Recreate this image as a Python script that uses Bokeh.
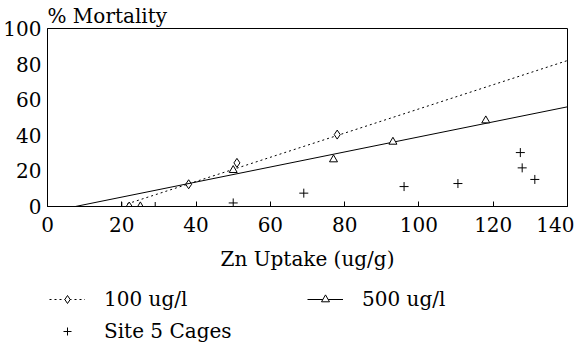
from bokeh.plotting import figure
from bokeh.models import Legend, LegendItem, FixedTicker, Range1d, Title
from bokeh.layouts import column
from bokeh.embed import file_html
from bokeh.resources import INLINE

FONT = "DejaVu Serif"

# 100 ug/l exposure
x100 = [22, 38, 51, 78]
y100 = [0, 12.5, 24.5, 40.4]
fit100_x = [21.5, 140]
fit100_y = [1.5, 82]

# 500 ug/l exposure
x500 = [25, 50, 77, 93, 118]
y500 = [0, 20.4, 26.4, 36.3, 48.3]
fit500_x = [7.5, 140]
fit500_y = [0, 56]

# Site 5 cages
xsite = [20, 29, 50, 69, 96, 110.5, 127.3, 127.8, 131.2]
ysite = [0, 0, 2, 7.5, 11.2, 12.9, 30.3, 21.7, 15.2]

xticks = [0, 20, 40, 60, 80, 100, 120, 140]
yticks = [0, 20, 40, 60, 80, 100]

p = figure(frame_width=520, frame_height=178, output_backend="svg",
           toolbar_location=None, x_range=Range1d(0, 140), y_range=Range1d(0, 100),
           min_border_left=44, min_border_right=7, min_border_top=23,
           min_border_bottom=74)
p.background_fill_color = "white"
p.border_fill_color = "white"
p.outline_line_color = "black"
p.outline_line_width = 1
p.xgrid.visible = False
p.ygrid.visible = False

title = Title(text="% Mortality", align="left", text_font=FONT,
              text_font_size="20px", text_font_style="normal", text_color="black",
              standoff=2)
p.add_layout(title, "above")

for ax in (p.xaxis[0], p.yaxis[0]):
    ax.major_label_text_font = FONT
    ax.major_label_text_font_size = "20px"
    ax.major_label_text_color = "black"
    ax.axis_line_color = "black"
    ax.minor_tick_line_color = None
    ax.major_tick_line_color = "black"

p.xaxis[0].ticker = FixedTicker(ticks=xticks)
p.yaxis[0].ticker = FixedTicker(ticks=yticks)
p.xaxis[0].major_tick_in = 5
p.xaxis[0].major_tick_out = 0
p.xaxis[0].major_label_standoff = 10
p.xaxis[0].axis_label = "Zn Uptake (ug/g)"
p.xaxis[0].axis_label_text_font = FONT
p.xaxis[0].axis_label_text_font_size = "20px"
p.xaxis[0].axis_label_text_font_style = "normal"
p.xaxis[0].axis_label_text_color = "black"
p.xaxis[0].axis_label_standoff = 12
p.yaxis[0].major_tick_in = 0
p.yaxis[0].major_tick_out = 0
p.yaxis[0].major_label_standoff = 6

def add_series(fig, fx, fy, mx, my, dash, marker, msize):
    ln = fig.line(fx, fy, line_color="black", line_width=1, line_dash=dash)
    mk = fig.scatter(mx, my, marker=marker, size=msize, fill_color="white",
                     line_color="black", line_width=1)
    return ln, mk

add_series(p, fit100_x, fit100_y, x100, y100, "2 3", "diamond", 9)
add_series(p, fit500_x, fit500_y, x500, y500, "solid", "triangle", 8)
p.scatter(xsite, ysite, marker="cross", size=9, line_color="black", line_width=1)

# legend panel: a separate figure (its ranges keep the data out of view) so the
# legend is not clipped by the main plot frame
lf = figure(width=571, height=63, output_backend="svg", toolbar_location=None,
            x_range=Range1d(-20, -10), y_range=Range1d(-20, -10),
            min_border=0, outline_line_color=None)
lf.axis.visible = False
lf.grid.visible = False
lf.background_fill_color = "white"
lf.border_fill_color = "white"

l_l100, l_m100 = add_series(lf, fit100_x, fit100_y, x100, y100, "2 3", "diamond", 7)
l_l500, l_m500 = add_series(lf, fit500_x, fit500_y, x500, y500, "solid", "triangle", 7)
l_site = lf.scatter(xsite, ysite, marker="cross", size=8, line_color="black", line_width=1)

common = dict(border_line_color=None, background_fill_alpha=0, padding=0, margin=0,
              spacing=8, glyph_width=36, glyph_height=20, label_height=20,
              label_standoff=19, label_text_font=FONT, label_text_font_size="20px",
              label_text_color="black")
legA = Legend(items=[LegendItem(label="100 ug/l", renderers=[l_l100, l_m100]),
                     LegendItem(label="Site 5 Cages", renderers=[l_site])],
              orientation="vertical", location=(2, 0), **common)
legB = Legend(items=[LegendItem(label="500 ug/l", renderers=[l_l500, l_m500])],
              orientation="vertical", location=(260, 32), **common)
lf.add_layout(legA, "center")
lf.add_layout(legB, "center")

layout = column(p, lf, spacing=0)
open("out.html", "w").write(file_html(layout, INLINE))
